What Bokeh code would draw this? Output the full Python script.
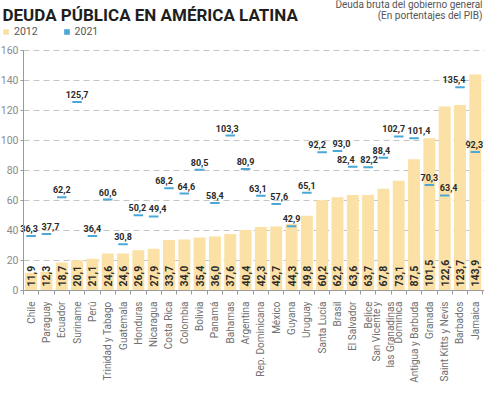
import math
from bokeh.plotting import figure
from bokeh.models import ColumnDataSource, Range1d, FixedTicker, Label, Legend, LegendItem
from bokeh.core.properties import value
from bokeh.embed import file_html
from bokeh.resources import INLINE

countries = ["Chile", "Paraguay", "Ecuador", "Suriname", "Perú", "Trinidad y Tabago",
             "Guatemala", "Honduras", "Nicaragua", "Costa Rica", "Colombia", "Bolivia",
             "Panamá", "Bahamas", "Argentina", "Rep. Dominicana", "México", "Guyana",
             "Uruguay", "Santa Lucía", "Brasil", "El Salvador", "Belice",
             "San Vicente y\nlas Granadinas", "Dominica", "Antigua y Barbuda", "Granada",
             "Saint Kitts y Nevis", "Barbados", "Jamaica"]
debt_2012 = [11.9, 12.3, 18.7, 20.1, 21.1, 24.6, 24.6, 26.9, 27.9, 33.7, 34.0, 35.4,
             36.0, 37.6, 40.4, 42.3, 42.7, 44.3, 49.8, 60.2, 62.2, 63.6, 63.7, 67.8,
             73.1, 87.5, 101.5, 122.6, 123.7, 143.9]
debt_2021 = [36.3, 37.7, 62.2, 125.7, 36.4, 60.6, 30.8, 50.2, 49.4, 68.2, 64.6, 80.5,
             58.4, 103.3, 80.9, 63.1, 57.6, 42.9, 65.1, 92.2, 93.0, 82.4, 82.2, 88.4,
             102.7, 101.4, 70.3, 63.4, 135.4, 92.3]
y_ticks = [0, 20, 40, 60, 80, 100, 120, 140, 160]

# horizontal nudges (px) of the 2021 value labels, as in the original layout
label_nudge_2021 = [-2, 4, 0, 0, 0, 0, 0, -1, 4, -5, 2, 0, 0, -3, 0, -3, 3, 0, 0, -5,
                    4, -7, 1, -2, -5, 5, 0, 4, -6, -1]

BAR = "#fce1a6"
BLUE = "#4aa7d8"
FONT = "Roboto"
W, H = 484, 383
# whole canvas is the frame; header and axis labels live inside it
Y_TOP, Y_BOT = 193.3, -62.0
X_LEFT, X_RIGHT = -2.0, 29.6

def fmt(v):
    return f"{v:.1f}".replace(".", ",")

idx = list(range(len(countries)))
src = ColumnDataSource(dict(x=idx, v12=debt_2012, v21=debt_2021,
                            t12=[fmt(v) for v in debt_2012],
                            t21=[fmt(v) for v in debt_2021],
                            dx=label_nudge_2021))

p = figure(width=W, height=H, output_backend="svg", toolbar_location=None,
           x_range=Range1d(X_LEFT, X_RIGHT), y_range=Range1d(Y_BOT, Y_TOP),
           min_border_left=0, min_border_right=0, min_border_top=0, min_border_bottom=0)
p.outline_line_color = None
p.background_fill_color = "white"
p.xgrid.grid_line_color = None
p.ygrid.grid_line_color = None

grid_y = [t for t in y_ticks if t > 0]
p.segment(x0=-0.5, x1=X_RIGHT, y0=grid_y, y1=grid_y, line_color="#c4c4c4",
          line_width=1, line_dash="6 4")

bars = p.vbar(x="x", top="v12", width=0.78, source=src, fill_color=BAR, line_color=None)
marks = p.rect(x="x", y="v21", width=0.62, height=2, height_units="screen", source=src,
               fill_color=BLUE, line_color=None)

p.text(x="x", y=0, text="t12", source=src, angle=math.pi / 2, text_align="left",
       text_baseline="middle", y_offset=-4, text_font=value(FONT),
       text_font_style="bold", text_font_size="10.5px", text_color="#2b2b2b")
p.text(x="x", y="v21", text="t21", source=src, text_align="center",
       text_baseline="bottom", x_offset="dx", y_offset=-4, text_font=value(FONT),
       text_font_style="bold", text_font_size="9px", text_color="#2b2b2b")

# axes drawn inside the frame at fixed positions
p.yaxis.fixed_location = -0.5
p.yaxis.ticker = FixedTicker(ticks=y_ticks)
p.yaxis.bounds = (0, 160)
p.yaxis.axis_line_color = "#9a9a9a"
p.yaxis.major_tick_line_color = "#9a9a9a"
p.yaxis.major_tick_out = 3
p.yaxis.major_tick_in = 0
p.yaxis.minor_tick_line_color = None
p.yaxis.major_label_standoff = 2
p.yaxis.major_label_text_font = FONT
p.yaxis.major_label_text_font_size = "10.5px"
p.yaxis.major_label_text_color = "#8a8a8a"

p.xaxis.fixed_location = 0
p.xaxis.bounds = (-0.5, X_RIGHT)
p.xaxis.ticker = FixedTicker(ticks=idx, minor_ticks=[i - 0.5 for i in idx] + [len(idx) - 0.5])
p.xaxis.major_label_overrides = {i: c for i, c in zip(idx, countries)}
p.xaxis.major_label_orientation = math.pi / 2
p.xaxis.axis_line_color = "#9a9a9a"
p.xaxis.major_tick_line_color = None
p.xaxis.major_tick_out = 0
p.xaxis.major_tick_in = 0
p.xaxis.minor_tick_line_color = "#9a9a9a"
p.xaxis.minor_tick_out = 4
p.xaxis.minor_tick_in = 0
p.xaxis.major_label_standoff = 7
p.xaxis.major_label_text_font = FONT
p.xaxis.major_label_text_font_size = "10px"
p.xaxis.major_label_text_color = "#707070"

# header (screen units from frame bottom-left)
p.add_layout(Label(x=2, y=369, x_units="screen", y_units="screen",
                   text="DEUDA PÚBLICA EN AMÉRICA LATINA", text_font=FONT,
                   text_font_style="bold", text_font_size="17px", text_color="#1e1e1e",
                   text_baseline="alphabetic"))
p.add_layout(Label(x=482, y=379, x_units="screen", y_units="screen",
                   text="Deuda bruta del gobierno general", text_font=FONT,
                   text_font_size="10px", text_color="#555555", text_align="right",
                   text_baseline="alphabetic"))
p.add_layout(Label(x=482, y=368, x_units="screen", y_units="screen",
                   text="(En portentajes del PIB)", text_font=FONT,
                   text_font_size="10px", text_color="#555555", text_align="right",
                   text_baseline="alphabetic"))

legend = Legend(items=[LegendItem(label="2012", renderers=[bars]),
                       LegendItem(label="2021", renderers=[marks])],
                orientation="horizontal", location=(2, 345), padding=0, margin=0,
                spacing=25, glyph_width=7, glyph_height=7, label_standoff=5,
                label_height=10, label_text_font=FONT, label_text_font_size="10.5px",
                label_text_color="#555555", background_fill_alpha=0, border_line_color=None)
p.add_layout(legend)

open("out.html", "w").write(file_html(p, INLINE))
